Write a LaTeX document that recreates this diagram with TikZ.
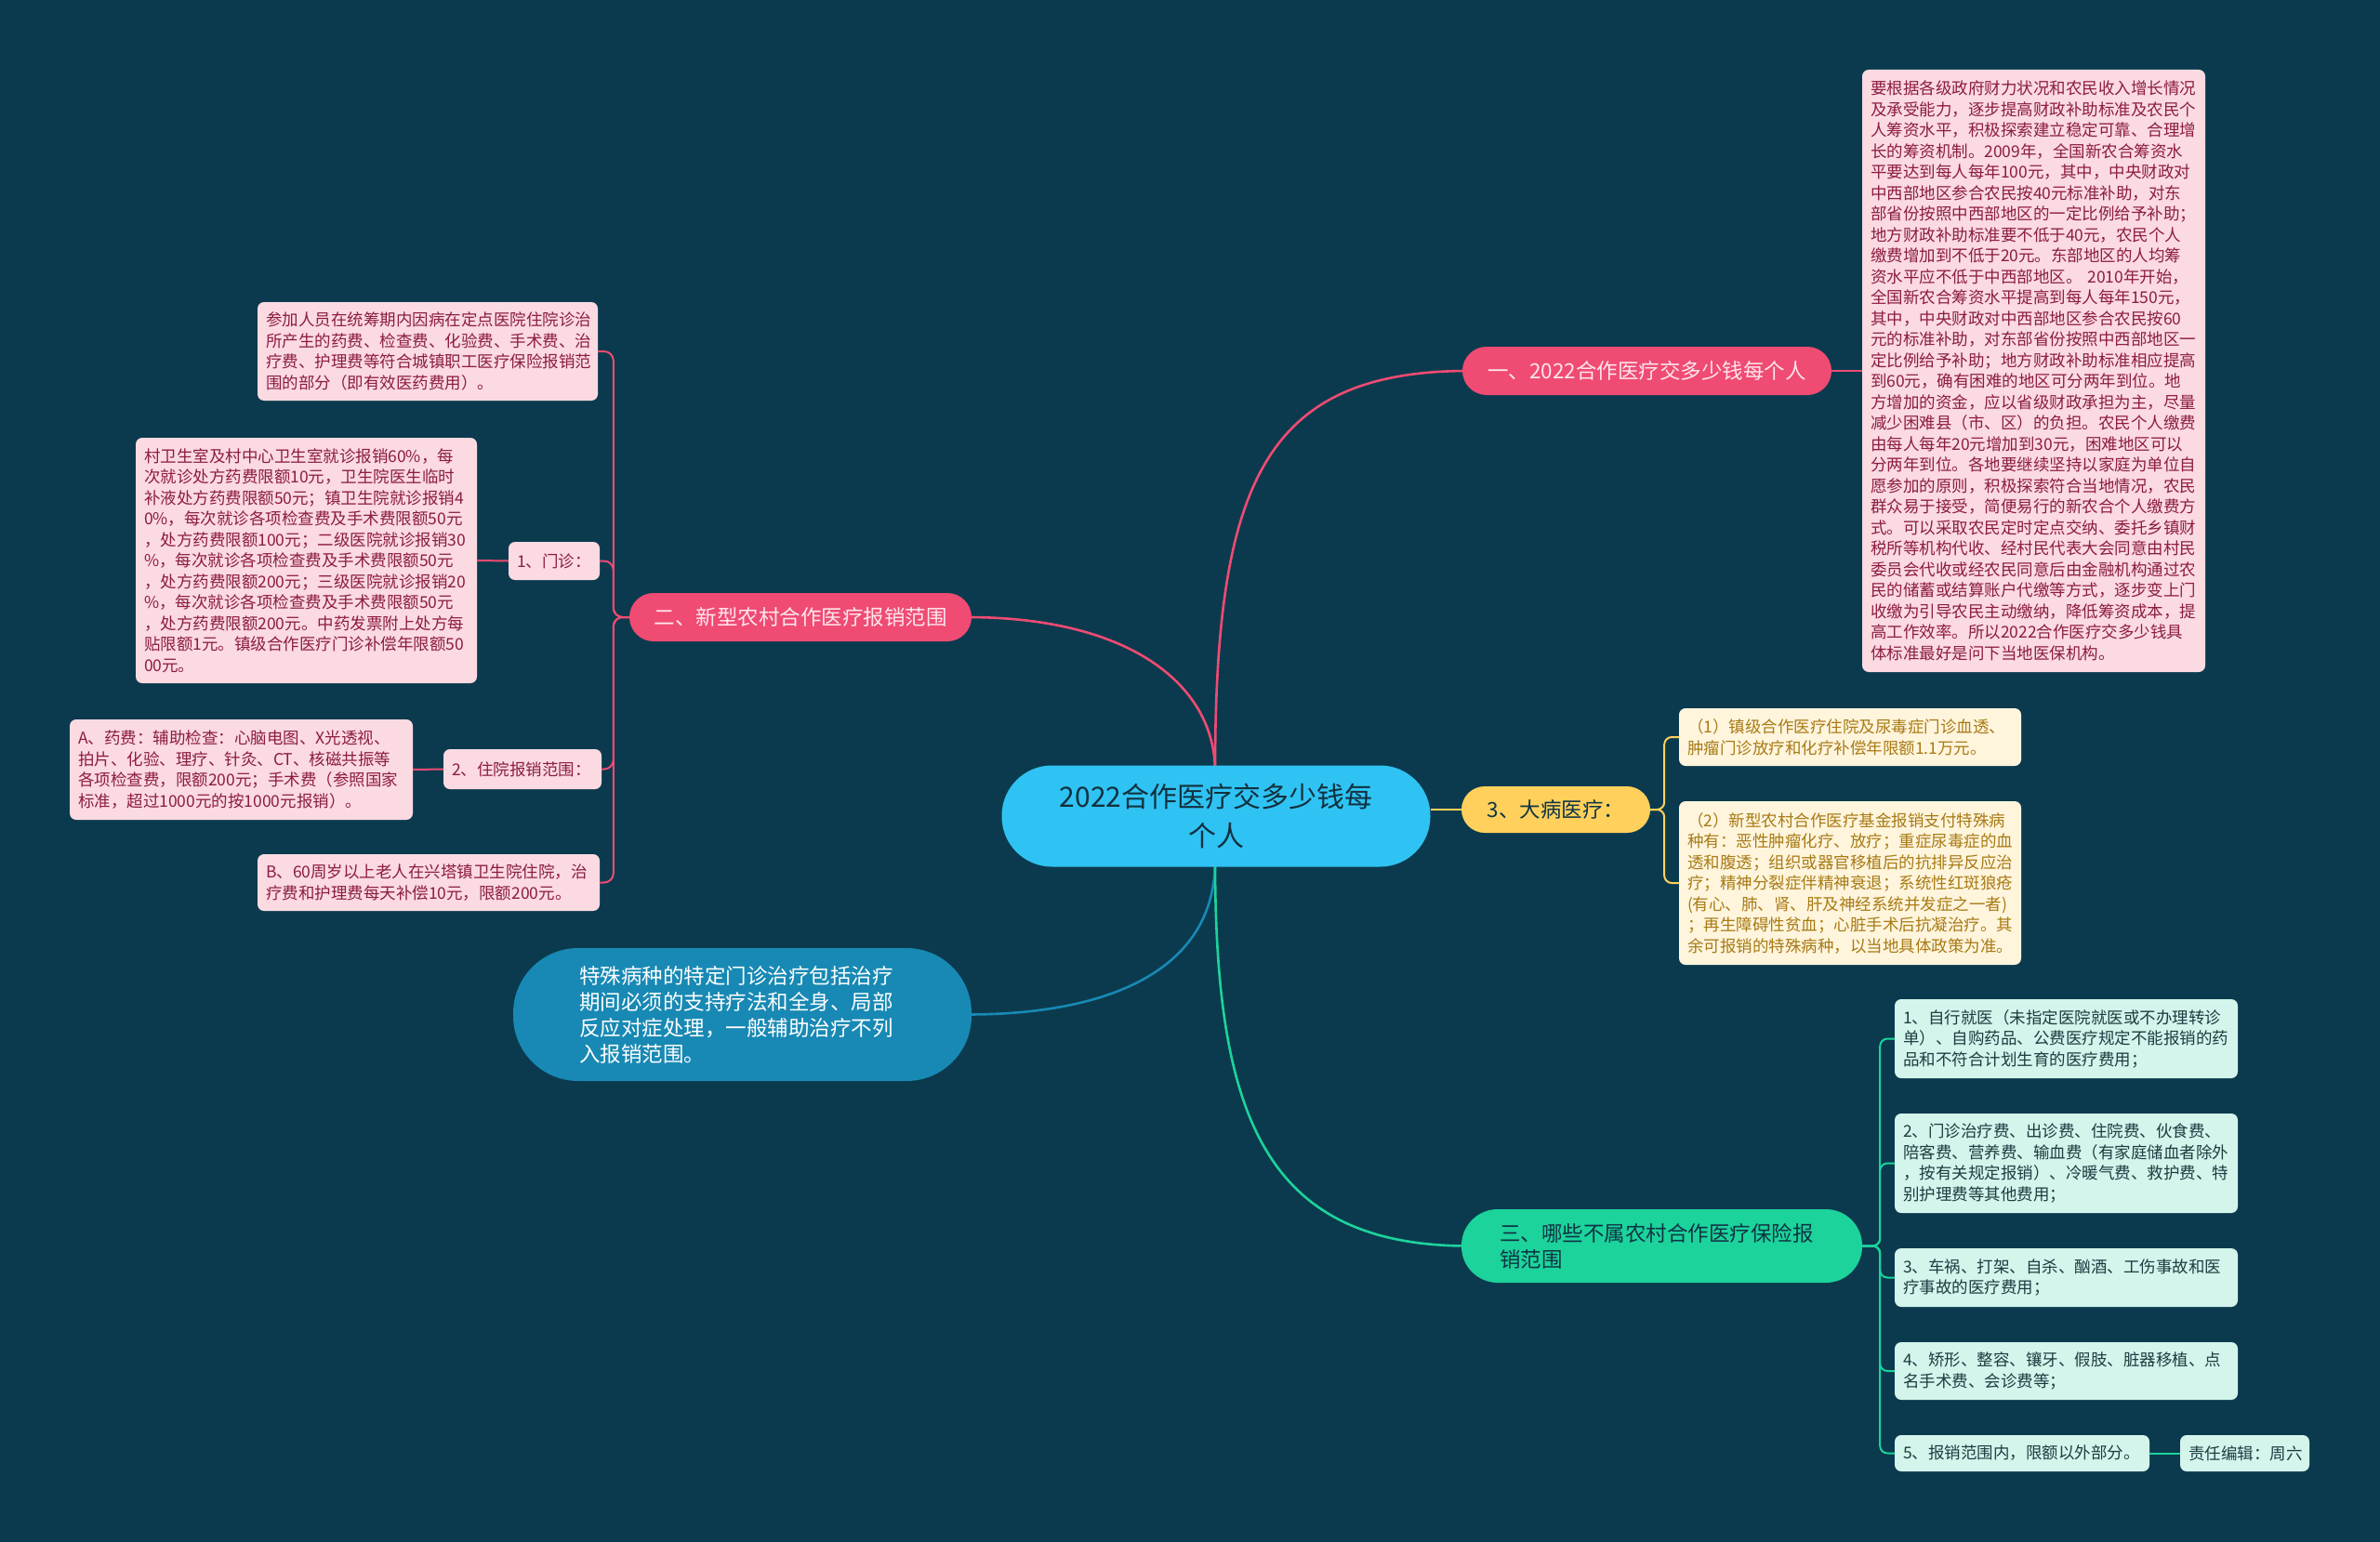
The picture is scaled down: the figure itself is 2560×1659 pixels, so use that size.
\documentclass[tikz,border=0pt]{standalone}
\usepackage{fontspec}
\setmainfont{Noto Sans CJK SC}
\definecolor{bgc}{HTML}{0B3A4E}
\definecolor{pinkmain}{HTML}{EF4B73}
\definecolor{pinklight}{HTML}{FFE6EC}
\definecolor{pinkfill}{HTML}{FBDAE1}
\definecolor{pinktext}{HTML}{8C1D40}
\definecolor{yellowmain}{HTML}{FFD15C}
\definecolor{yellowfill}{HTML}{FFF5DD}
\definecolor{yellowtext}{HTML}{A87A14}
\definecolor{greenmain}{HTML}{1CD39B}
\definecolor{greenfill}{HTML}{D3F5EC}
\definecolor{greentext}{HTML}{1D3C40}
\definecolor{cblue}{HTML}{2FC3F3}
\definecolor{cdark}{HTML}{12303F}
\definecolor{tealc}{HTML}{1889B4}
\definecolor{darkt}{HTML}{0F3444}
\newcommand\myfs{\fontsize{17.5}{22.5}\selectfont}
\newcommand\myfm{\fontsize{22.5}{28}\selectfont}
\newcommand\myfl{\fontsize{30}{41.5}\selectfont}
\begin{document}
\begin{tikzpicture}[x=1pt,y=-1pt,
  central/.style={fill=cblue,text=cdark,rounded corners=54pt,minimum width=461pt,minimum height=109pt,align=center,font=\myfl,inner sep=0pt},
  pinkbranch/.style={fill=pinkmain,text=pinklight,rounded corners=26pt,minimum height=52pt,font=\myfm,inner sep=0pt},
  yellowbranch/.style={fill=yellowmain,text=darkt,rounded corners=25pt,minimum height=50pt,minimum width=203pt,font=\myfm,inner sep=0pt},
  greenbranch/.style={fill=greenmain,text=darkt,rounded corners=39pt,minimum height=79pt,font=\myfm,inner xsep=41pt,inner ysep=0pt,align=left,text width=349pt},
  tealnode/.style={fill=tealc,text=white,rounded corners=70pt,minimum height=143pt,font=\myfm,inner xsep=71pt,inner ysep=0pt,align=left,text width=351pt},
  pinkbox/.style={fill=pinkfill,text=pinktext,rounded corners=7pt,font=\myfs,align=left,inner xsep=9pt,inner ysep=0pt},
  yellowbox/.style={fill=yellowfill,text=yellowtext,rounded corners=7pt,font=\myfs,align=left,inner xsep=9pt,inner ysep=0pt},
  greenbox/.style={fill=greenfill,text=greentext,rounded corners=7pt,font=\myfs,align=left,inner xsep=9pt,inner ysep=0pt},
  pinkline/.style={draw=pinkmain,line width=2.6pt},
  pinkthin/.style={draw=pinkmain,line width=2pt,rounded corners=10pt},
  yellowline/.style={draw=yellowmain,line width=2.6pt},
  yellowthin/.style={draw=yellowmain,line width=2pt,rounded corners=8pt},
  greenline/.style={draw=greenmain,line width=2.6pt},
  greenthin/.style={draw=greenmain,line width=2pt,rounded corners=8pt},
  tealline/.style={draw=tealc,line width=2.6pt}
]
\useasboundingbox (0,0) rectangle (2560,1659);
\fill[bgc] (0,0) rectangle (2560,1659);

% connectors from central node (drawn first)
\coordinate (ctop) at (1307,830);
\coordinate (cbot) at (1307,926);
\draw[pinkline] (ctop) .. controls (1307,520) and (1360,399) .. (1580,399);
\draw[pinkline] (ctop) .. controls (1307,740) and (1220,664) .. (1040,664);
\draw[tealline] (cbot) .. controls (1307,1040) and (1200,1091.5) .. (1040,1091.5);
\draw[greenline] (cbot) .. controls (1307,1200) and (1360,1340.5) .. (1580,1340.5);

% central
\node[central] (c) at (1308,878) {2022合作医疗交多少钱每\\个人};

% branch 1
\node[pinkbranch,minimum width=397pt] (b1) at (1771.5,399) {一、2022合作医疗交多少钱每个人};
\node[pinkbox,text width=351pt,minimum height=648pt] (r1) at (2187.5,399) {要根据各级政府财力状况和农民收入增长情况\\及承受能力，逐步提高财政补助标准及农民个\\人筹资水平，积极探索建立稳定可靠、合理增\\长的筹资机制。2009年，全国新农合筹资水\\平要达到每人每年100元，其中，中央财政对\\中西部地区参合农民按40元标准补助，对东\\部省份按照中西部地区的一定比例给予补助；\\地方财政补助标准要不低于40元，农民个人\\缴费增加到不低于20元。东部地区的人均筹\\资水平应不低于中西部地区。 2010年开始，\\全国新农合筹资水平提高到每人每年150元，\\其中，中央财政对中西部地区参合农民按60\\元的标准补助，对东部省份按照中西部地区一\\定比例给予补助；地方财政补助标准相应提高\\到60元，确有困难的地区可分两年到位。地\\方增加的资金，应以省级财政承担为主，尽量\\减少困难县（市、区）的负担。农民个人缴费\\由每人每年20元增加到30元，困难地区可以\\分两年到位。各地要继续坚持以家庭为单位自\\愿参加的原则，积极探索符合当地情况，农民\\群众易于接受，简便易行的新农合个人缴费方\\式。可以采取农民定时定点交纳、委托乡镇财\\税所等机构代收、经村民代表大会同意由村民\\委员会代收或经农民同意后由金融机构通过农\\民的储蓄或结算账户代缴等方式，逐步变上门\\收缴为引导农民主动缴纳，降低筹资成本，提\\高工作效率。所以2022合作医疗交多少钱具\\体标准最好是问下当地医保机构。};
\draw[pinkline] (b1.east) -- (r1.west);

% branch 2
\node[pinkbranch,minimum width=368pt] (b2) at (861,664) {二、新型农村合作医疗报销范围};
\node[pinkbox,text width=348pt,minimum height=106pt] (tl) at (460,378) {参加人员在统筹期内因病在定点医院住院诊治\\所产生的药费、检查费、化验费、手术费、治\\疗费、护理费等符合城镇职工医疗保险报销范\\围的部分（即有效医药费用）。};
\node[pinkbox,text width=80pt,minimum height=41pt] (mz) at (596,603.5) {1、门诊：};
\node[pinkbox,text width=349pt,minimum height=264pt] (big) at (329.5,603) {村卫生室及村中心卫生室就诊报销60\%，每\\次就诊处方药费限额10元，卫生院医生临时\\补液处方药费限额50元；镇卫生院就诊报销4\\0\%，每次就诊各项检查费及手术费限额50元\\，处方药费限额100元；二级医院就诊报销30\\\%，每次就诊各项检查费及手术费限额50元\\，处方药费限额200元；三级医院就诊报销20\\\%，每次就诊各项检查费及手术费限额50元\\，处方药费限额200元。中药发票附上处方每\\贴限额1元。镇级合作医疗门诊补偿年限额50\\00元。};
\node[pinkbox,text width=152pt,minimum height=43pt] (zy) at (562,827.5) {2、住院报销范围：};
\node[pinkbox,text width=351pt,minimum height=108pt] (ab) at (259.5,828) {A、药费：辅助检查：心脑电图、X光透视、\\拍片、化验、理疗、针灸、CT、核磁共振等\\各项检查费，限额200元；手术费（参照国家\\标准，超过1000元的按1000元报销）。};
\node[pinkbox,text width=350pt,minimum height=61pt] (bb) at (461,949.5) {B、60周岁以上老人在兴塔镇卫生院住院，治\\疗费和护理费每天补偿10元，限额200元。};
\draw[pinkthin] (b2.west) -- ++(-17,0) |- (tl.east);
\draw[pinkthin] (b2.west) -- ++(-17,0) |- (mz.east);
\draw[pinkthin] (b2.west) -- ++(-17,0) |- (zy.east);
\draw[pinkthin] (b2.west) -- ++(-17,0) |- (bb.east);
\draw[pinkthin] (mz.west) -- (big.east);
\draw[pinkthin] (zy.west) -- (ab.east);

% branch 3
\node[yellowbranch] (b3) at (1673.5,871) {3、大病医疗：};
\draw[yellowline] (b3.west) -- (b3.west -| c.east);
\node[yellowbox,text width=350pt,minimum height=62pt] (y1) at (1990,793) {（1）镇级合作医疗住院及尿毒症门诊血透、\\肿瘤门诊放疗和化疗补偿年限额1.1万元。};
\node[yellowbox,text width=350pt,minimum height=176pt] (y2) at (1990,950) {（2）新型农村合作医疗基金报销支付特殊病\\种有：恶性肿瘤化疗、放疗；重症尿毒症的血\\透和腹透；组织或器官移植后的抗排异反应治\\疗；精神分裂症伴精神衰退；系统性红斑狼疮\\(有心、肺、肾、肝及神经系统并发症之一者)\\；再生障碍性贫血；心脏手术后抗凝治疗。其\\余可报销的特殊病种，以当地具体政策为准。};
\draw[yellowthin] (b3.east) -- ++(15,0) |- (y1.west);
\draw[yellowthin] (b3.east) -- ++(15,0) |- (y2.west);

% teal node
\node[tealnode] (t) at (798.5,1091.5) {特殊病种的特定门诊治疗包括治疗\\期间必须的支持疗法和全身、局部\\反应对症处理，一般辅助治疗不列\\入报销范围。};

% branch 4
\node[greenbranch] (b4) at (1787.5,1340.5) {三、哪些不属农村合作医疗保险报\\销范围};
\node[greenbox,text width=351pt,minimum height=85pt] (g1) at (2222.5,1117.5) {1、自行就医（未指定医院就医或不办理转诊\\单）、自购药品、公费医疗规定不能报销的药\\品和不符合计划生育的医疗费用；};
\node[greenbox,text width=351pt,minimum height=107pt] (g2) at (2222.5,1251.5) {2、门诊治疗费、出诊费、住院费、伙食费、\\陪客费、营养费、输血费（有家庭储血者除外\\，按有关规定报销）、冷暖气费、救护费、特\\别护理费等其他费用；};
\node[greenbox,text width=351pt,minimum height=63pt] (g3) at (2222.5,1374.5) {3、车祸、打架、自杀、酗酒、工伤事故和医\\疗事故的医疗费用；};
\node[greenbox,text width=351pt,minimum height=62pt] (g4) at (2222.5,1475) {4、矫形、整容、镶牙、假肢、脏器移植、点\\名手术费、会诊费等；};
\node[greenbox,text width=256pt,minimum height=39pt] (g5) at (2175,1563.5) {5、报销范围内，限额以外部分。};
\node[greenbox,text width=121pt,minimum height=39pt] (ed) at (2414.5,1563.5) {责任编辑：周六};
\foreach \g in {g1,g2,g3,g4,g5}{
  \draw[greenthin] (b4.east) -- ++(19,0) |- (\g.west);
}
\draw[greenthin] (g5.east) -- (ed.west);
\end{tikzpicture}
\end{document}
